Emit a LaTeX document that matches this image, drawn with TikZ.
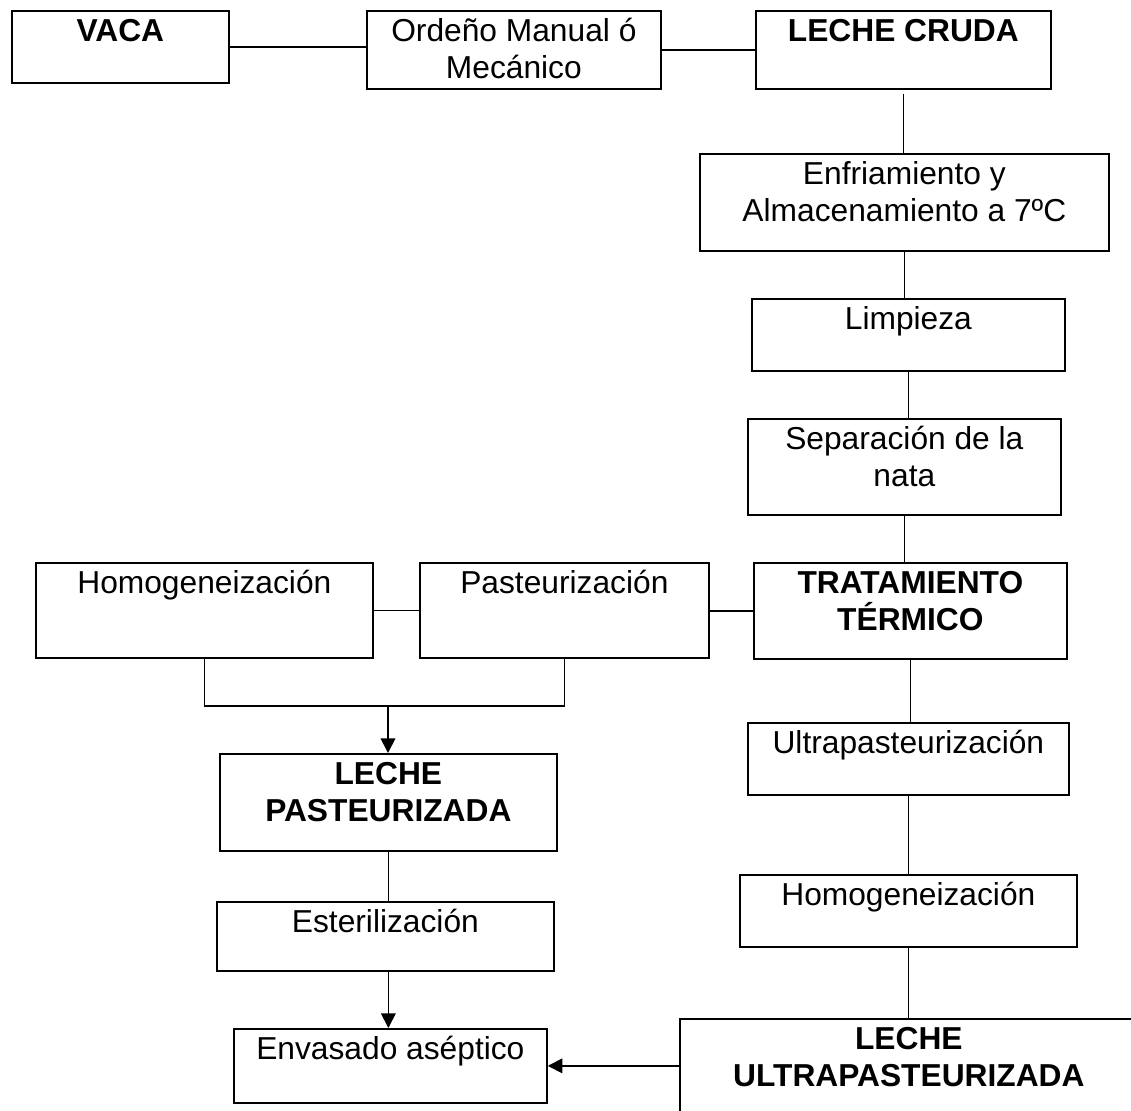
\documentclass[tikz,border=0pt]{standalone}
\usepackage{fontspec}
\setmainfont{Liberation Sans}
\usepackage{xcolor}
\usetikzlibrary{arrows.meta}
\newdimen\pxu
\pxu=0.75pt
\tikzset{
  caja/.style 2 args={draw, line width=1.3pt, inner sep=0pt, anchor=north west,
    execute at begin node={\begin{minipage}[c][#2\pxu][t]{#1\pxu}\centering
      \fontsize{23.8pt}{27.75pt}\selectfont\rule{0pt}{23.25pt}},
    execute at end node={\end{minipage}}},
  linea/.style={line width=1.3pt},
  flecha/.style={line width=1.3pt, -{Triangle[length=11pt,width=11pt]}}
}

\begin{document}
\begin{tikzpicture}[x=0.75pt, y=-0.75pt]
\useasboundingbox (0,0) rectangle (1131,1110);
\clip (0,0) rectangle (1131,1110);

% fila superior
\node[caja={217}{72}] (vaca) at (11,10) {\textbf{VACA}};
\node[caja={294}{78}] (ordeno) at (366,10) {Ordeño Manual ó\\Mecánico};
\node[caja={295}{78}] (cruda) at (755,10) {\textbf{LECHE CRUDA}};

% columna derecha
\node[caja={409}{97}] (enfria) at (699,153) {Enfriamiento y\\Almacenamiento a 7ºC};
\node[caja={313}{72}] (limpia) at (751,298) {Limpieza};
\node[caja={313}{96}] (nata) at (747,418) {Separación de la\\nata};
\node[caja={313}{96}] (termico) at (753,562) {\textbf{TRATAMIENTO\\TÉRMICO}};
\node[caja={321}{72}] (ultra) at (747,722) {Ultrapasteurización};
\node[caja={337}{72}] (homoder) at (739,874) {Homogeneización};
\node[caja={458}{110}] (lultra) at (679,1018) {\textbf{LECHE\\ULTRAPASTEURIZADA}};

% rama izquierda
\node[caja={337}{95}] (homoizq) at (35,562) {Homogeneización};
\node[caja={289}{95}] (pasteur) at (419,562) {Pasteurización};
\node[caja={337}{97}] (lpast) at (219,753) {\textbf{LECHE\\PASTEURIZADA}};
\node[caja={337}{69}] (esteril) at (216,901) {Esterilización};
\node[caja={313}{74}] (envase) at (233,1028) {Envasado aséptico};
\coordinate (junta) at (388,706);

% conexiones
\draw[linea] (vaca.east) -- (vaca.east -| ordeno.west);
\draw[linea] (ordeno.east) -- (cruda.west);
\draw[linea] (cruda.south) ++(0,4) -- (cruda.south |- enfria.north);
\draw[linea] (enfria.south) -- (enfria.south |- limpia.north);
\draw[linea] (limpia.south) -- (limpia.south |- nata.north);
\draw[linea] (nata.south) -- (nata.south |- termico.north);
\draw[linea] (termico.south) -- (termico.south |- ultra.north);
\draw[linea] (ultra.south) -- (ultra.south |- homoder.north);
\draw[linea] (homoder.south) -- (homoder.south |- lultra.north);
\draw[linea] (termico.west) -- (termico.west -| pasteur.east);
\draw[linea] (pasteur.west) -- (pasteur.west -| homoizq.east);
\draw[linea] (homoizq.south) |- (junta) -| (pasteur.south);
\draw[flecha] (junta) -- (junta |- lpast.north);
\draw[linea] (lpast.south) -- (lpast.south |- esteril.north);
\draw[flecha] (lpast.south |- esteril.south) -- (lpast.south |- envase.north);
\draw[flecha] (lultra.west |- envase.east) -- (envase.east);
\end{tikzpicture}
\end{document}
